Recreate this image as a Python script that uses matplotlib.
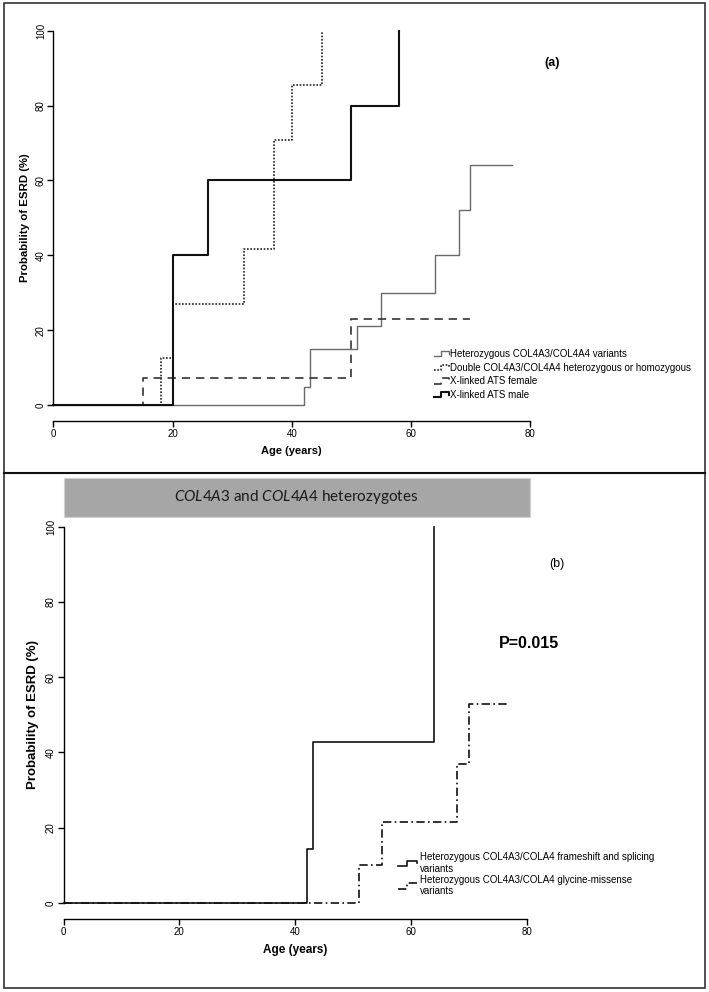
import matplotlib
matplotlib.use("Agg")
import matplotlib.pyplot as plt
from matplotlib.lines import Line2D
from matplotlib.patches import Rectangle
from matplotlib.legend_handler import HandlerBase

plt.rcParams["font.family"] = ["Liberation Sans", "DejaVu Sans"]
plt.rcParams["mathtext.fontset"] = "custom"
plt.rcParams["mathtext.rm"] = "Lato"
plt.rcParams["mathtext.it"] = "Lato:italic"

NARROW = ["Liberation Sans Narrow", "Liberation Sans", "DejaVu Sans"]

# ---- panel (a) data: Kaplan-Meier steps (age, cumulative probability %)
het_t = [0, 42, 43, 51, 55, 64, 68, 70, 77]
het_p = [0, 4.7, 15, 21, 30, 40, 52, 64, 64]
dbl_t = [0, 18, 20, 32, 37, 40, 45]
dbl_p = [0, 12.5, 27.1, 41.7, 70.8, 85.4, 100]
fem_t = [0, 15, 50, 70]
fem_p = [0, 7.1, 22.9, 22.9]
male_t = [0, 20, 26, 50, 58]
male_p = [0, 40, 60, 80, 100]
labels_a = ["Heterozygous COL4A3/COL4A4 variants",
            "Double COL4A3/COL4A4 heterozygous or homozygous",
            "X-linked ATS female",
            "X-linked ATS male"]

# ---- panel (b) data
fs_t = [0, 42, 43, 64]
fs_p = [0, 14.3, 42.9, 100]
gly_t = [0, 51, 55, 68, 70, 76.5]
gly_p = [0, 10, 21.4, 37, 52.9, 52.9]
labels_b = ["Heterozygous COL4A3/COLA4 frameshift and splicing\nvariants",
            "Heterozygous COL4A3/COLA4 glycine-missense\nvariants"]

xticks = [0, 20, 40, 60, 80]
yticks = [0, 20, 40, 60, 80, 100]

W, H = 709, 992


class StepHandler(HandlerBase):
    def create_artists(self, legend, orig_handle, xdescent, ydescent,
                       width, height, fontsize, trans):
        x0 = -xdescent
        y0 = -ydescent
        xs = [x0, x0 + 0.45 * width, x0 + 0.45 * width, x0 + width, x0 + width]
        ys = [y0 + 0.1 * height, y0 + 0.1 * height, y0 + 0.9 * height,
              y0 + 0.9 * height, y0 + 0.5 * height]
        ln = Line2D(xs, ys)
        ln.update_from(orig_handle)
        ln.set_transform(trans)
        return [ln]


def fig_rect(left, top, right, bottom):
    return [left / W, 1 - bottom / H, (right - left) / W, (bottom - top) / H]


def style_axes(ax, label_size, xlab_size, ypad):
    ax.set_xlim(0, 80)
    ax.set_ylim(0, 100)
    for s in ["top", "right"]:
        ax.spines[s].set_visible(False)
    ax.spines["bottom"].set_position(("outward", 11.5))
    ax.spines["bottom"].set_bounds(0, 80)
    ax.spines["left"].set_bounds(0, 100)
    for s in ["bottom", "left"]:
        ax.spines[s].set_linewidth(1.0)
    ax.set_xticks(xticks)
    ax.set_yticks(yticks)
    ax.tick_params(axis="both", length=4, width=1.0, pad=1.5)
    for t in ax.get_xticklabels():
        t.set_fontfamily(NARROW)
        t.set_fontsize(7)
    for t in ax.get_yticklabels():
        t.set_fontfamily(NARROW)
        t.set_fontsize(7)
        t.set_rotation(90)
        t.set_va("center")
    ax.set_ylabel("Probability of ESRD (%)", fontsize=label_size,
                  fontweight="bold", labelpad=ypad)
    ax.set_xlabel("Age (years)", fontsize=xlab_size, fontweight="bold",
                  labelpad=5)


fig = plt.figure(figsize=(W / 100, H / 100), dpi=100)

# ---------------- panel (a)
ax1 = fig.add_axes(fig_rect(53.5, 30.7, 530, 405))
h1, = ax1.step(het_t, het_p, where="post", color="#6a6a6a", lw=1.0)
h2, = ax1.step(dbl_t, dbl_p, where="post", color="#222222", lw=1.2,
               linestyle=(0, (1, 1)))
h3, = ax1.step(fem_t, fem_p, where="post", color="#333333", lw=1.2,
               linestyle=(0, (5, 3.5)))
h4, = ax1.step(male_t, male_p, where="post", color="#111111", lw=1.5)
for h in (h1, h2, h3, h4):
    h.set_clip_on(False)
style_axes(ax1, 8.2, 8, 4)
ax1.text(552 / W, 1 - 63 / H, "(a)", transform=fig.transFigure,
         fontsize=9, fontweight="bold", ha="center", va="center")
ax1.legend([h1, h2, h3, h4], labels_a, handler_map={Line2D: StepHandler()},
           loc="upper left", bbox_to_anchor=(434 / W, 1 - 349 / H),
           bbox_transform=fig.transFigure, frameon=False, borderpad=0,
           borderaxespad=0, handlelength=1.5, handletextpad=0.15,
           labelspacing=0.38, prop={"family": NARROW, "size": 7})

# ---------------- panel (b)
ax2 = fig.add_axes(fig_rect(63.5, 526.7, 527, 903))
g1, = ax2.step(fs_t, fs_p, where="post", color="#111111", lw=1.2)
g2, = ax2.step(gly_t, gly_p, where="post", color="#111111", lw=1.2,
               linestyle=(0, (5, 2, 1, 2)))
for g in (g1, g2):
    g.set_clip_on(False)
style_axes(ax2, 9.5, 8.5, 5)
ax2.text(557 / W, 1 - 564 / H, "(b)", transform=fig.transFigure,
         fontsize=9, ha="center", va="center")
ax2.text(529 / W, 1 - 644 / H, "P=0.015", transform=fig.transFigure,
         fontsize=11.5, fontweight="bold", ha="center", va="center",
         fontfamily=NARROW)
ax2.legend([g1, g2], labels_b, handler_map={Line2D: StepHandler()},
           loc="upper left", bbox_to_anchor=(398 / W, 1 - 852 / H),
           bbox_transform=fig.transFigure, frameon=False, borderpad=0,
           borderaxespad=0, handlelength=2.0, handletextpad=0.25,
           labelspacing=0.1, prop={"family": NARROW, "size": 7})

# banner over panel (b)
fig.add_artist(Rectangle((63.5 / W, 1 - 517 / H), 466 / W, 39 / H,
                         transform=fig.transFigure, facecolor="#a6a6a6",
                         edgecolor="#d0d0d0", lw=0.8))
fig.text(296.5 / W, 1 - 497 / H,
         r"$\mathit{COL4A3}$ and $\mathit{COL4A4}$ heterozygotes",
         fontfamily="Lato", fontsize=11, ha="center", va="center",
         color="#1a1a1a")

# outer frame and divider
fig.add_artist(Rectangle((4 / W, 1 - 988 / H), 701 / W, 985 / H,
                         transform=fig.transFigure, fill=False,
                         edgecolor="#333333", lw=1.2))
fig.add_artist(Line2D([4 / W, 705 / W], [1 - 473 / H, 1 - 473 / H],
                      transform=fig.transFigure, color="#111111", lw=1.5))

fig.savefig("out.png", dpi=100)
